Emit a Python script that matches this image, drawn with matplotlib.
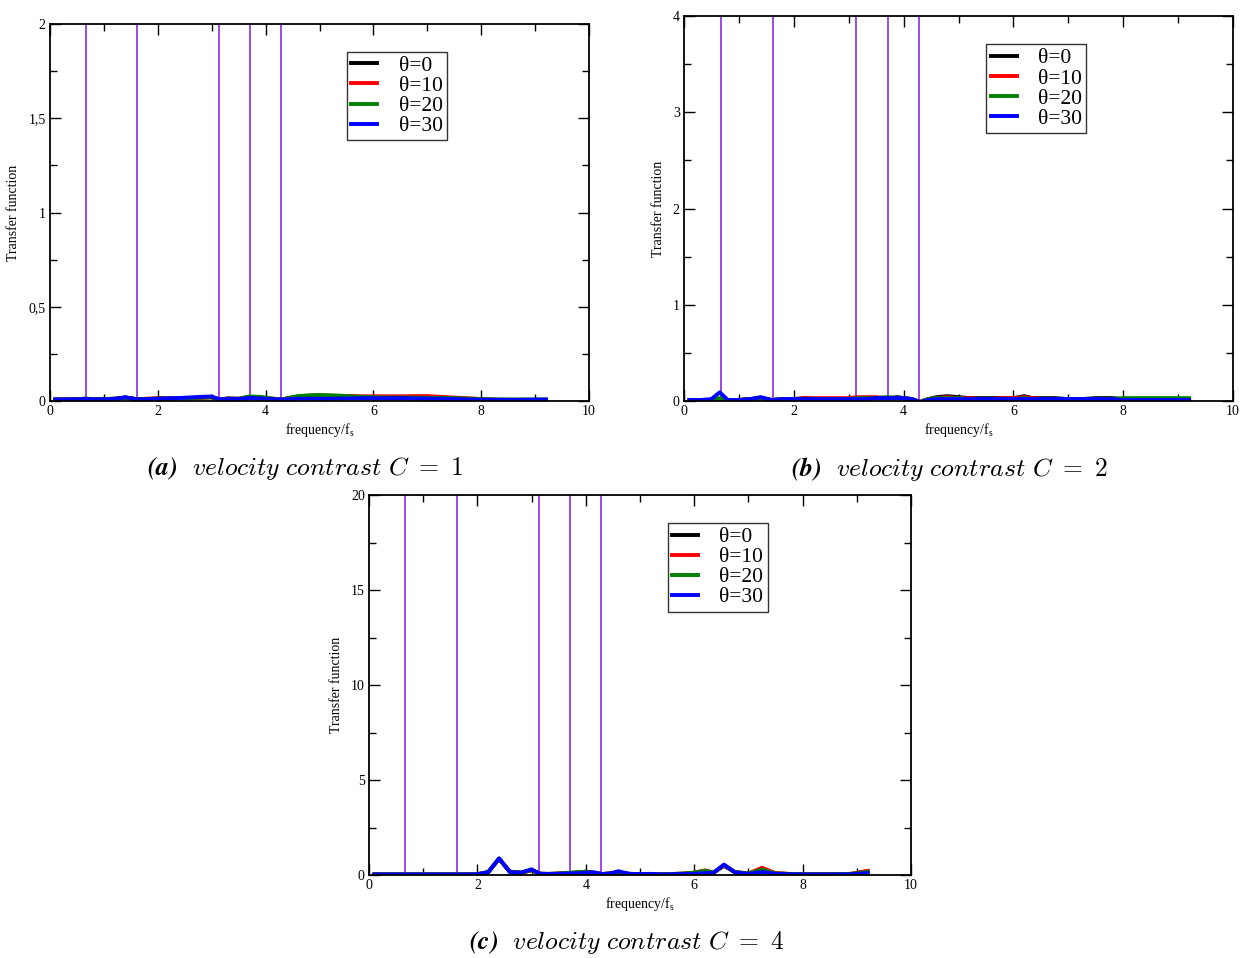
import numpy as np
import matplotlib
matplotlib.use("Agg")
import matplotlib.pyplot as plt
from matplotlib.ticker import MultipleLocator, FuncFormatter

plt.rcParams['font.family'] = ['Liberation Serif', 'DejaVu Serif']
plt.rcParams['mathtext.fontset'] = 'cm'

# frequency grid (frequency / f_s)
freq = [0.1, 0.3, 0.5, 0.65, 0.8, 1.0, 1.2, 1.4, 1.6, 1.8, 2.0, 2.2, 2.4, 2.6,
        2.8, 3.0, 3.15, 3.3, 3.5, 3.7, 3.9, 4.0, 4.15, 4.3, 4.45, 4.6, 4.8,
        5.0, 5.2, 5.4, 5.6, 5.8, 6.0, 6.2, 6.35, 6.55, 6.75, 7.0, 7.25, 7.5,
        7.8, 8.0, 8.3, 8.6, 8.9, 9.2]

angles = ['θ=0', 'θ=10', 'θ=20', 'θ=30']
colors = ['black', 'red', 'green', 'blue']

# velocity contrast C = 1
c1_t0 = [0.008, 0.008, 0.009, 0.012, 0.010, 0.010, 0.012, 0.018, 0.010, 0.010, 0.012, 0.013, 0.014, 0.015,
         0.018, 0.020, 0.008, 0.012, 0.010, 0.015, 0.014, 0.012, 0.010, 0.008, 0.012, 0.016, 0.018,
         0.020, 0.020, 0.018, 0.016, 0.016, 0.015, 0.014, 0.014, 0.014, 0.013, 0.012, 0.011, 0.010,
         0.009, 0.008, 0.007, 0.006, 0.006, 0.006]
c1_t10 = [0.008, 0.008, 0.009, 0.012, 0.010, 0.010, 0.012, 0.018, 0.010, 0.012, 0.015, 0.016, 0.016, 0.015,
          0.017, 0.020, 0.008, 0.014, 0.012, 0.022, 0.020, 0.016, 0.012, 0.008, 0.016, 0.024, 0.028,
          0.030, 0.028, 0.027, 0.026, 0.025, 0.025, 0.025, 0.025, 0.025, 0.026, 0.026, 0.022, 0.018,
          0.014, 0.010, 0.006, 0.004, 0.005, 0.006]
c1_t20 = [0.008, 0.008, 0.009, 0.012, 0.010, 0.010, 0.012, 0.018, 0.010, 0.011, 0.013, 0.014, 0.015, 0.016,
          0.018, 0.020, 0.008, 0.013, 0.012, 0.024, 0.022, 0.018, 0.012, 0.008, 0.018, 0.026, 0.030,
          0.032, 0.030, 0.028, 0.024, 0.022, 0.020, 0.019, 0.018, 0.018, 0.018, 0.017, 0.016, 0.015,
          0.012, 0.010, 0.008, 0.008, 0.008, 0.008]
c1_t30 = [0.008, 0.008, 0.009, 0.011, 0.009, 0.009, 0.011, 0.020, 0.009, 0.010, 0.012, 0.014, 0.016, 0.019,
          0.022, 0.024, 0.008, 0.012, 0.011, 0.016, 0.014, 0.012, 0.010, 0.008, 0.010, 0.012, 0.012,
          0.012, 0.012, 0.013, 0.014, 0.015, 0.015, 0.015, 0.015, 0.015, 0.014, 0.013, 0.012, 0.010,
          0.008, 0.007, 0.006, 0.006, 0.007, 0.008]

# velocity contrast C = 2
c2_t0 = [0.01, 0.01, 0.01, 0.02, 0.01, 0.01, 0.02, 0.03, 0.01, 0.02, 0.02, 0.03, 0.02, 0.02,
         0.02, 0.02, 0.03, 0.03, 0.03, 0.03, 0.04, 0.03, 0.02, -0.01, 0.02, 0.04, 0.05,
         0.04, 0.03, 0.03, 0.03, 0.03, 0.03, 0.05, 0.03, 0.03, 0.03, 0.02, 0.02, 0.03,
         0.03, 0.02, 0.02, 0.02, 0.02, 0.02]
c2_t10 = [0.01, 0.01, 0.01, 0.02, 0.01, 0.01, 0.02, 0.03, 0.01, 0.02, 0.02, 0.03, 0.03, 0.03,
          0.03, 0.03, 0.04, 0.04, 0.04, 0.03, 0.03, 0.03, 0.02, -0.01, 0.02, 0.03, 0.04,
          0.03, 0.03, 0.02, 0.02, 0.03, 0.03, 0.04, 0.03, 0.02, 0.02, 0.02, 0.01, 0.02,
          0.02, 0.02, 0.02, 0.02, 0.02, 0.02]
c2_t20 = [0.01, 0.01, 0.01, 0.03, 0.01, 0.01, 0.02, 0.03, 0.01, 0.02, 0.02, 0.02, 0.02, 0.02,
          0.02, 0.02, 0.03, 0.03, 0.03, 0.04, 0.03, 0.03, 0.02, -0.01, 0.02, 0.03, 0.03,
          0.03, 0.02, 0.02, 0.02, 0.02, 0.02, 0.03, 0.02, 0.02, 0.02, 0.02, 0.02, 0.02,
          0.02, 0.03, 0.03, 0.03, 0.03, 0.03]
c2_t30 = [0.01, 0.01, 0.02, 0.09, 0.01, 0.01, 0.02, 0.04, 0.01, 0.02, 0.02, 0.02, 0.02, 0.02,
          0.02, 0.02, 0.02, 0.02, 0.03, 0.03, 0.03, 0.03, 0.02, -0.01, 0.01, 0.02, 0.02,
          0.02, 0.02, 0.02, 0.02, 0.02, 0.02, 0.02, 0.02, 0.02, 0.02, 0.02, 0.02, 0.02,
          0.02, 0.01, 0.01, 0.01, 0.01, 0.01]

# velocity contrast C = 4
c4_t0 = [0.03, 0.03, 0.03, 0.03, 0.03, 0.03, 0.03, 0.03, 0.03, 0.03, 0.04, 0.15, 0.85, 0.18,
         0.12, 0.25, 0.08, 0.06, 0.08, 0.10, 0.14, 0.18, 0.12, 0.05, 0.08, 0.12, 0.06,
         0.05, 0.04, 0.03, 0.04, 0.06, 0.10, 0.22, 0.12, 0.50, 0.15, 0.06, 0.25, 0.08,
         0.05, 0.04, 0.04, 0.04, 0.06, 0.20]
c4_t10 = [0.03, 0.03, 0.03, 0.03, 0.03, 0.03, 0.03, 0.03, 0.03, 0.03, 0.04, 0.15, 0.85, 0.16,
          0.12, 0.25, 0.06, 0.05, 0.07, 0.10, 0.14, 0.16, 0.10, 0.05, 0.08, 0.14, 0.06,
          0.05, 0.04, 0.03, 0.05, 0.08, 0.12, 0.24, 0.12, 0.48, 0.16, 0.08, 0.38, 0.10,
          0.05, 0.04, 0.03, 0.04, 0.06, 0.22]
c4_t20 = [0.03, 0.03, 0.03, 0.03, 0.03, 0.03, 0.03, 0.03, 0.03, 0.03, 0.04, 0.15, 0.85, 0.16,
          0.12, 0.26, 0.06, 0.05, 0.07, 0.12, 0.16, 0.16, 0.10, 0.05, 0.08, 0.14, 0.06,
          0.05, 0.04, 0.03, 0.05, 0.08, 0.12, 0.22, 0.12, 0.50, 0.16, 0.08, 0.28, 0.08,
          0.05, 0.04, 0.03, 0.04, 0.06, 0.16]
c4_t30 = [0.03, 0.03, 0.03, 0.03, 0.03, 0.03, 0.03, 0.03, 0.03, 0.03, 0.04, 0.15, 0.88, 0.15,
          0.12, 0.30, 0.06, 0.05, 0.06, 0.08, 0.10, 0.12, 0.14, 0.05, 0.08, 0.20, 0.06,
          0.05, 0.06, 0.03, 0.04, 0.05, 0.06, 0.10, 0.10, 0.55, 0.14, 0.06, 0.16, 0.06,
          0.04, 0.03, 0.03, 0.03, 0.04, 0.10]

# resonance markers
vlines = [0.67, 1.615, 3.135, 3.71, 4.285]

panels = [
    dict(data=[c1_t0, c1_t10, c1_t20, c1_t30], ymax=2, ymaj=0.5, ymin=0.25,
         rect=[50, 24, 589, 401], cap=('(a)', '1'), capx=305, capy=469),
    dict(data=[c2_t0, c2_t10, c2_t20, c2_t30], ymax=4, ymaj=1, ymin=0.5,
         rect=[684, 16, 1233, 401], cap=('(b)', '2'), capx=949, capy=469),
    dict(data=[c4_t0, c4_t10, c4_t20, c4_t30], ymax=20, ymaj=5, ymin=2.5,
         rect=[369, 495, 911, 875], cap=('(c)', '4'), capx=627, capy=943),
]

W, H = 1243, 958
fig = plt.figure(figsize=(W / 100, H / 100), dpi=100)


def comma(v, pos):
    s = ('%g' % v)
    return s.replace('.', ',')


for p in panels:
    x0, y0, x1, y1 = p['rect']
    ax = fig.add_axes([x0 / W, 1 - y1 / H, (x1 - x0) / W, (y1 - y0) / H])
    for xv in vlines:
        ax.axvline(xv, color='#8a2be2', lw=1.2, zorder=1)
    for ys, c, lab in zip(p['data'], colors, angles):
        ax.plot(freq, ys, color=c, lw=2.8, label=lab, zorder=2)
    ax.set_xlim(0, 10)
    ax.set_ylim(0, p['ymax'])
    ax.xaxis.set_major_locator(MultipleLocator(2))
    ax.xaxis.set_minor_locator(MultipleLocator(1))
    ax.yaxis.set_major_locator(MultipleLocator(p['ymaj']))
    ax.yaxis.set_minor_locator(MultipleLocator(p['ymin']))
    ax.yaxis.set_major_formatter(FuncFormatter(comma))
    ax.tick_params(which='both', direction='in', top=True, right=True,
                   labelsize=10, pad=3)
    ax.tick_params(which='major', length=8, width=1)
    ax.tick_params(which='minor', length=5, width=1)
    for s in ax.spines.values():
        s.set_linewidth(1.3)
    ax.set_xlabel('frequency/f$_\\mathregular{s}$', fontsize=10, labelpad=2)
    ax.set_ylabel('Transfer function', fontsize=10, labelpad=6)
    leg = ax.legend(loc='upper left', bbox_to_anchor=(0.551, 0.927),
                    borderaxespad=0, fontsize=15.5, frameon=True, fancybox=False,
                    edgecolor='black', labelspacing=0.0, handlelength=1.2,
                    handletextpad=1.0, borderpad=0.2)
    leg.get_frame().set_linewidth(1.0)
    lbl, c = p['cap']
    fig.text(p['capx'] / W, 1 - p['capy'] / H,
             r'$\mathbfit{' + lbl + r'}$' + r'$\ \ \mathit{velocity\ contrast}\ C\ =\ ' + c + '$',
             ha='center', va='center', fontsize=18.5)

fig.savefig('out.png', dpi=100)
